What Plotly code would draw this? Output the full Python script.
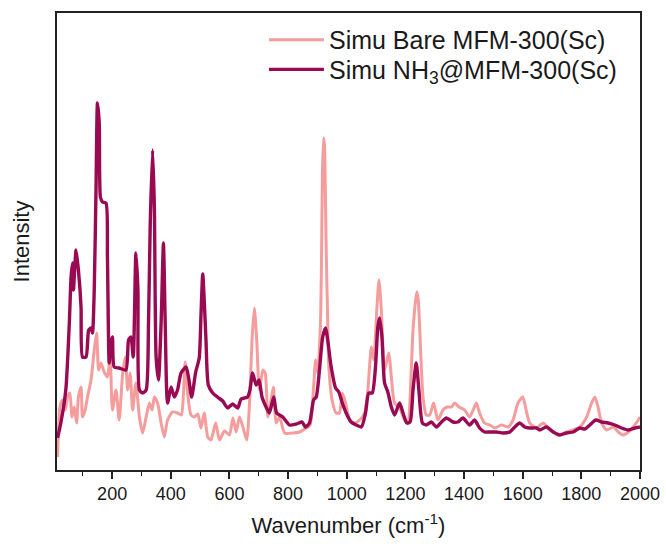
import plotly.graph_objects as go

# Simu NH3@MFM-300(Sc)
nh3_wn = [14, 25, 42, 54, 60, 65, 68, 77, 85, 94, 99, 111, 120, 128, 133, 139, 145, 150, 156, 160,
          167, 179, 184, 190, 196, 201, 207, 224, 247, 256, 264, 272, 281, 288, 293, 304, 316, 324, 330, 338,
          344, 350, 358, 367, 375, 381, 389, 401, 412, 423, 435, 452, 461, 471, 485, 497, 503, 509, 514, 520,
          528, 543, 559, 577, 594, 611, 628, 640, 662, 670, 679, 691, 701, 711, 725, 736, 751, 761, 782, 805,
          828, 848, 859, 873, 887, 896, 907, 918, 928, 935, 947, 962, 973, 985, 998, 1015, 1032, 1050, 1064, 1075,
          1087, 1098, 1106, 1112, 1120, 1129, 1140, 1152, 1163, 1180, 1192, 1205, 1216, 1226, 1237, 1246, 1258, 1271, 1288, 1306,
          1323, 1340, 1362, 1379, 1396, 1419, 1436, 1453, 1470, 1488, 1510, 1533, 1556, 1573, 1590, 1607, 1624, 1647, 1658, 1681,
          1704, 1726, 1749, 1772, 1795, 1812, 1829, 1849, 1869, 1891, 1914, 1937, 1960, 1983, 2000]
nh3_int = [32, 47, 80, 147, 193, 207, 180, 220, 200, 163, 113, 113, 140, 142, 137, 180, 280, 367, 347, 273,
           268, 267, 213, 107, 127, 133, 103, 102, 100, 130, 133, 113, 217, 180, 80, 77, 80, 147, 247, 320,
           263, 113, 90, 147, 227, 147, 67, 83, 73, 80, 97, 103, 92, 73, 98, 112, 155, 196, 170, 130,
           85, 77, 73, 69, 62, 66, 62, 71, 73, 80, 97, 85, 90, 73, 63, 57, 73, 57, 53, 45,
           46, 48, 43, 47, 70, 73, 100, 133, 142, 130, 103, 82, 78, 67, 57, 48, 45, 43, 57, 77,
           77, 103, 143, 152, 133, 87, 78, 63, 55, 67, 57, 47, 48, 80, 107, 80, 47, 45, 48, 43,
           48, 52, 48, 48, 52, 45, 50, 42, 38, 38, 38, 37, 38, 43, 47, 43, 42, 42, 40, 43,
           38, 35, 37, 38, 42, 41, 45, 50, 48, 47, 45, 42, 40, 42, 43]

# Simu Bare MFM-300(Sc)
bare_wn = [14, 22, 31, 40, 48, 56, 63, 71, 79, 85, 94, 99, 108, 116, 128, 139, 147, 154, 162, 173,
           184, 193, 201, 213, 224, 236, 245, 253, 261, 270, 281, 293, 304, 316, 327, 336, 344, 355, 367, 378,
           389, 406, 423, 436, 443, 449, 458, 469, 480, 492, 503, 514, 526, 537, 553, 566, 583, 600, 612, 623,
           634, 647, 659, 669, 677, 685, 693, 702, 714, 722, 731, 742, 750, 759, 771, 788, 816, 839, 862, 875,
           887, 894, 901, 910, 914, 917, 921, 924, 927, 930, 935, 939, 950, 964, 975, 985, 996, 1010, 1027, 1044,
           1061, 1072, 1084, 1092, 1103, 1110, 1118, 1129, 1143, 1152, 1163, 1180, 1197, 1209, 1214, 1226, 1235, 1239, 1244, 1249,
           1260, 1271, 1283, 1296, 1311, 1328, 1342, 1357, 1368, 1383, 1402, 1419, 1431, 1442, 1453, 1470, 1488, 1505, 1527, 1550,
           1567, 1584, 1600, 1613, 1624, 1647, 1670, 1687, 1704, 1726, 1749, 1772, 1795, 1818, 1835, 1846, 1857, 1869, 1886, 1909,
           1926, 1943, 1960, 1977, 1994, 2000]
bare_int = [13, 63, 70, 60, 73, 77, 53, 63, 47, 73, 83, 53, 60, 73, 90, 120, 137, 100, 107, 98,
            93, 113, 60, 80, 50, 97, 113, 80, 97, 60, 87, 53, 37, 53, 67, 60, 73, 67, 47, 33,
            50, 58, 57, 55, 75, 108, 75, 55, 53, 56, 42, 57, 33, 30, 47, 30, 39, 35, 52, 38,
            53, 42, 30, 70, 130, 162, 130, 80, 100, 97, 53, 70, 83, 47, 53, 37, 37, 38, 42, 45,
            83, 110, 97, 143, 210, 295, 332, 325, 280, 220, 150, 103, 70, 57, 57, 77, 67, 50, 47, 50,
            57, 80, 123, 110, 163, 190, 160, 100, 117, 93, 67, 62, 50, 47, 60, 140, 170, 178, 170, 140,
            73, 55, 55, 67, 50, 60, 63, 63, 67, 63, 60, 53, 60, 67, 57, 47, 45, 42, 45, 43,
            50, 67, 73, 58, 47, 42, 47, 42, 38, 35, 38, 40, 43, 53, 67, 73, 63, 47, 40, 43,
            38, 35, 38, 43, 50, 53]

x_ticks = [200, 400, 600, 800, 1000, 1200, 1400, 1600, 1800, 2000]

FONT = "Arial, Liberation Sans, sans-serif"
TXT = "#1a1a1a"

fig = go.Figure()
fig.add_trace(go.Scatter(x=bare_wn, y=bare_int, mode="lines", name="Simu Bare MFM-300(Sc)",
                         legend="legend",
                         line=dict(color="#F59C9C", width=3, shape="spline", smoothing=0.6)))
fig.add_trace(go.Scatter(x=nh3_wn, y=nh3_int, mode="lines", name="Simu NH<sub>3</sub>@MFM-300(Sc)",
                         legend="legend2",
                         line=dict(color="#9A0A52", width=3.4, shape="spline", smoothing=0.6)))

leg_common = dict(xanchor="left", yanchor="middle", bgcolor="rgba(0,0,0,0)",
                  font=dict(size=25, family=FONT, color=TXT), itemwidth=55)

fig.update_layout(
    width=666, height=544,
    margin=dict(l=57, r=26, t=13, b=74),
    paper_bgcolor="white", plot_bgcolor="white",
    font=dict(family=FONT, color=TXT),
    showlegend=True,
    legend=dict(x=0.355, y=0.941, **leg_common),
    legend2=dict(x=0.355, y=0.876, **leg_common),
    xaxis=dict(range=[12, 2000], tickmode="array", tickvals=x_ticks,
               ticktext=[str(v) for v in x_ticks],
               ticks="outside", ticklen=7, tickwidth=1.5, tickcolor="#222",
               minor=dict(dtick=100, tick0=0, ticks="outside", ticklen=4, tickwidth=1.2, tickcolor="#222"),
               showline=True, linecolor="#222", linewidth=1.5, mirror=True,
               showgrid=False, zeroline=False, automargin=False,
               tickfont=dict(size=18, family=FONT, color=TXT),
               title=dict(text="Wavenumber (cm<sup>-1</sup>)", font=dict(size=22, family=FONT, color=TXT),
                          standoff=14)),
    yaxis=dict(range=[0, 457], showticklabels=False, ticks="",
               showline=True, linecolor="#222", linewidth=1.5, mirror=True,
               showgrid=False, zeroline=False, automargin=False,
               title=dict(text="Intensity", font=dict(size=22, family=FONT, color=TXT), standoff=20)),
)

fig.write_html("out.html", config={"displayModeBar": False},
               post_script="document.body.style.margin='0';document.body.style.padding='0';")
